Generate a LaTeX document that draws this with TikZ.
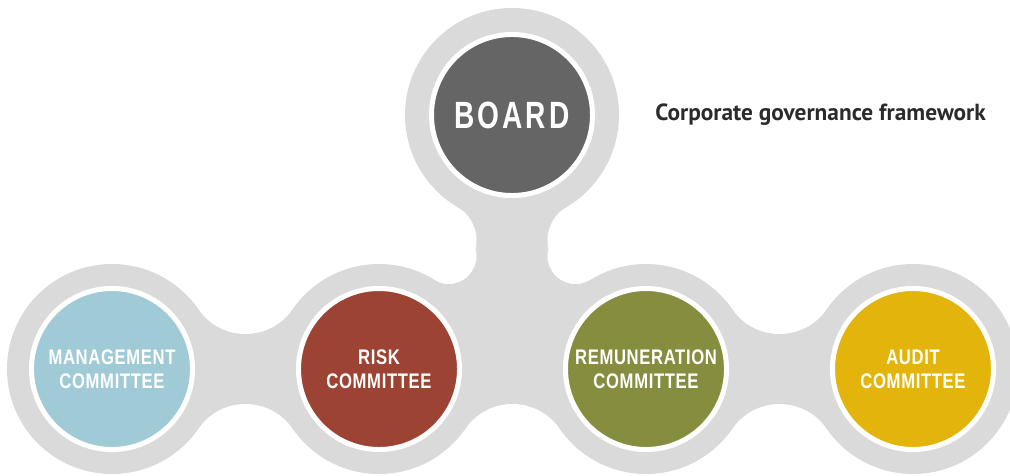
\documentclass[tikz,border=0pt]{standalone}
\usepackage{xcolor}
\usepackage{fontspec}
\usepackage{tikz}
\newfontfamily\labelfont[FakeStretch=0.79,LetterSpace=3]{Liberation Sans}
\newfontfamily\boardfont[FakeStretch=0.74,LetterSpace=8]{Liberation Sans}
\newfontfamily\titlefont{PT Sans}
\definecolor{ringgray}{RGB}{218,218,218}
\definecolor{boardgray}{RGB}{101,101,101}
\definecolor{mgmtblue}{RGB}{160,203,214}
\definecolor{riskred}{RGB}{157,67,51}
\definecolor{remolive}{RGB}{135,141,63}
\definecolor{audityellow}{RGB}{227,181,12}
\definecolor{titleink}{RGB}{43,43,43}

\begin{document}
\begin{tikzpicture}[x=0.025cm, y=-0.025cm,
  committee/.style={circle, draw=white, line width=0.125cm, minimum size=4.025cm, inner sep=0pt, text=white, align=center, font=\labelfont\bfseries\fontsize{15}{17}\selectfont},
  boardnode/.style={committee, font=\boardfont\bfseries\fontsize{27}{30}\selectfont}]
\useasboundingbox (0,0) rectangle (1010,475);
\fill[white] (0,0) rectangle (1010,475);
\fill[ringgray] (112,309.2) rectangle (913,428.8);
\fill[ringgray] (512,115) -- (457.6,207.1) -- (433,279.6) -- (433,369) -- (591,369) -- (591,279.6) -- (566.4,207.1) -- cycle;
\fill[white] (245.5,276.7) circle (57.3) (779.5,276.7) circle (57.3);
\fill[white] (245.5,461.3) circle (57.3) (512.5,461.3) circle (57.3) (779.5,461.3) circle (57.3);
\fill[white] (438,240.3) circle (38.5) (586,240.3) circle (38.5);
\fill[white] (448.5,256) circle (28) (575.5,256) circle (28);
\fill[ringgray] (512,115) circle (107);
\foreach \cx in {112,379,646,913}
  \fill[ringgray] (\cx,369) circle (105);
\node[boardnode, fill=boardgray] (board) at (512,115) {BOARD};
\node[committee, fill=mgmtblue] (mgmt) at (112,369) {MANAGEMENT\\COMMITTEE};
\node[committee, fill=riskred] (risk) at (379,369) {RISK\\COMMITTEE};
\node[committee, fill=remolive] (rem) at (646,369) {REMUNERATION\\COMMITTEE};
\node[committee, fill=audityellow] (audit) at (913,369) {AUDIT\\COMMITTEE};
\node[anchor=base west, inner sep=0pt, text=titleink, font=\titlefont\bfseries\fontsize{16.6}{19}\selectfont] (title) at (655,120.5) {Corporate governance framework};
\end{tikzpicture}
\end{document}
